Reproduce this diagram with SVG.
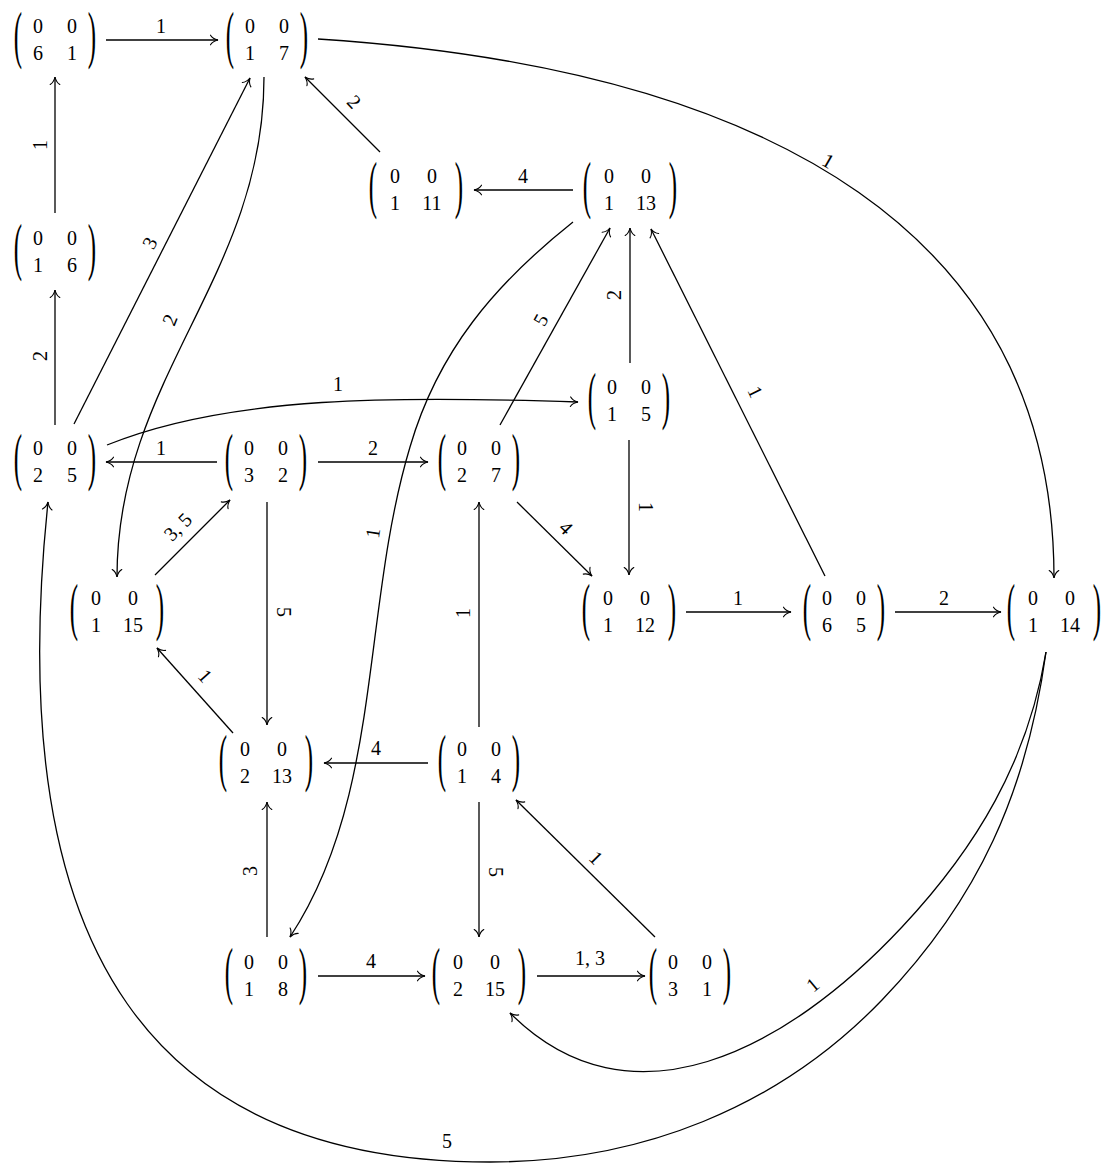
<svg xmlns="http://www.w3.org/2000/svg" width="1109" height="1163" viewBox="0 0 1109 1163">
<style>
.m{font-family:"Liberation Serif","Times New Roman",serif;font-size:20px;text-anchor:middle;fill:#000}
.p{font-family:"Liberation Serif","Times New Roman",serif;font-size:25px;text-anchor:middle;fill:#000}
.l{font-family:"Liberation Serif","Times New Roman",serif;font-size:20px;text-anchor:middle;fill:#000}
.e{fill:none;stroke:#000;stroke-width:1.3;marker-end:url(#ah)}
</style>
<defs>
<marker id="ah" viewBox="-9 -6 11 12" refX="0" refY="0" markerWidth="11" markerHeight="12" markerUnits="userSpaceOnUse" orient="auto" overflow="visible">
<path d="M-7.5,-4.8 C-5.8,-2 -2.6,-0.6 0,0 C-2.6,0.6 -5.8,2 -7.5,4.8" fill="none" stroke="#000" stroke-width="1.1" stroke-linecap="round"/>
</marker>
</defs>
<rect width="1109" height="1163" fill="#fff"/>

<g id="edges">
<path class="e" d="M106,40 H218"/>
<path class="e" d="M55,213 V77"/>
<path class="e" d="M55,425 V290"/>
<path class="e" d="M74,424 L250,78"/>
<path class="e" d="M264,77 C264,277 117,377 117,577"/>
<path class="e" d="M318,39 C778,69 1054,238 1054,578"/>
<path class="e" d="M380,152 L305,77"/>
<path class="e" d="M573,190 H474"/>
<path class="e" d="M573,222 C495,284 438,351 410,447 C361,610 383,796 290,937"/>
<path class="e" d="M630,363 V228"/>
<path class="e" d="M500,425 L610,228"/>
<path class="e" d="M825,576 L651,229"/>
<path class="e" d="M107,445 C230,395 400,396 578,402"/>
<path class="e" d="M217,462 H106"/>
<path class="e" d="M318,462 H428"/>
<path class="e" d="M155,575 L230,500"/>
<path class="e" d="M267,502 V725"/>
<path class="e" d="M517,502 L592,576"/>
<path class="e" d="M629,440 V575"/>
<path class="e" d="M686,612 H791"/>
<path class="e" d="M895,612 H1001"/>
<path class="e" d="M1046,652 C1028,761 977,847 902,927 C786,1051 630,1133 510,1013"/>
<path class="e" d="M1046,652 C1027,791 979,899 882,1000 C778,1108 640,1162 490,1162 C160,1162 0,960 48,502"/>
<path class="e" d="M233,733 L157,648"/>
<path class="e" d="M428,763 H324"/>
<path class="e" d="M479,727 V502"/>
<path class="e" d="M479,802 V937"/>
<path class="e" d="M267,937 V802"/>
<path class="e" d="M318,976 H425"/>
<path class="e" d="M537,976 H645"/>
<path class="e" d="M655,937 L516,800"/>

<text class="l" x="161" y="33">1</text>
<text class="l" transform="translate(40,145) rotate(-90)" y="6.5">1</text>
<text class="l" transform="translate(40,356) rotate(-90)" y="6.5">2</text>
<text class="l" transform="translate(150,243) rotate(-63)" y="6.5">3</text>
<text class="l" transform="translate(170,320) rotate(-68)" y="6.5">2</text>
<text class="l" transform="translate(828,161) rotate(30)" y="6.5">1</text>
<text class="l" transform="translate(354,102) rotate(47)" y="6.5">2</text>
<text class="l" x="523" y="183">4</text>
<text class="l" transform="translate(373,533) rotate(-81)" y="6.5">1</text>
<text class="l" transform="translate(614,295) rotate(-90)" y="6.5">2</text>
<text class="l" transform="translate(541,320) rotate(-61)" y="6.5">5</text>
<text class="l" transform="translate(755,392) rotate(64)" y="6.5">1</text>
<text class="l" x="338" y="391">1</text>
<text class="l" x="161" y="455">1</text>
<text class="l" x="373" y="455">2</text>
<text class="l" transform="translate(178,527) rotate(-45)" y="6.5">3, 5</text>
<text class="l" transform="translate(283,612) rotate(90)" y="6.5">5</text>
<text class="l" transform="translate(566,528) rotate(45)" y="6.5">4</text>
<text class="l" transform="translate(645,507) rotate(90)" y="6.5">1</text>
<text class="l" x="738" y="605">1</text>
<text class="l" x="944" y="605">2</text>
<text class="l" transform="translate(813,985) rotate(-40)" y="6.5">1</text>
<text class="l" x="447" y="1148">5</text>
<text class="l" transform="translate(205,676) rotate(48)" y="6.5">1</text>
<text class="l" x="376" y="755">4</text>
<text class="l" transform="translate(463,613) rotate(-90)" y="6.5">1</text>
<text class="l" transform="translate(495,872) rotate(90)" y="6.5">5</text>
<text class="l" transform="translate(250,871) rotate(-90)" y="6.5">3</text>
<text class="l" x="371" y="968">4</text>
<text class="l" x="590" y="965">1, 3</text>
<text class="l" transform="translate(596,858) rotate(45)" y="6.5">1</text>
</g>

<g id="n-6-1" transform="translate(55,40)">
<text class="p" transform="translate(-37,16) scale(1,2.5)">(</text><text class="p" transform="translate(37,16) scale(1,2.5)">)</text>
<text class="m" x="-17" y="-7">0</text><text class="m" x="17" y="-7">0</text><text class="m" x="-17" y="20">6</text><text class="m" x="17" y="20">1</text>
</g>
<g id="n-1-7" transform="translate(267,40)">
<text class="p" transform="translate(-37,16) scale(1,2.5)">(</text><text class="p" transform="translate(37,16) scale(1,2.5)">)</text>
<text class="m" x="-17" y="-7">0</text><text class="m" x="17" y="-7">0</text><text class="m" x="-17" y="20">1</text><text class="m" x="17" y="20">7</text>
</g>
<g id="n-1-6" transform="translate(55,252)">
<text class="p" transform="translate(-37,16) scale(1,2.5)">(</text><text class="p" transform="translate(37,16) scale(1,2.5)">)</text>
<text class="m" x="-17" y="-7">0</text><text class="m" x="17" y="-7">0</text><text class="m" x="-17" y="20">1</text><text class="m" x="17" y="20">6</text>
</g>
<g id="n-2-5" transform="translate(55,462)">
<text class="p" transform="translate(-37,16) scale(1,2.5)">(</text><text class="p" transform="translate(37,16) scale(1,2.5)">)</text>
<text class="m" x="-17" y="-7">0</text><text class="m" x="17" y="-7">0</text><text class="m" x="-17" y="20">2</text><text class="m" x="17" y="20">5</text>
</g>
<g id="n-3-2" transform="translate(266,462)">
<text class="p" transform="translate(-37,16) scale(1,2.5)">(</text><text class="p" transform="translate(37,16) scale(1,2.5)">)</text>
<text class="m" x="-17" y="-7">0</text><text class="m" x="17" y="-7">0</text><text class="m" x="-17" y="20">3</text><text class="m" x="17" y="20">2</text>
</g>
<g id="n-2-7" transform="translate(479,462)">
<text class="p" transform="translate(-37,16) scale(1,2.5)">(</text><text class="p" transform="translate(37,16) scale(1,2.5)">)</text>
<text class="m" x="-17" y="-7">0</text><text class="m" x="17" y="-7">0</text><text class="m" x="-17" y="20">2</text><text class="m" x="17" y="20">7</text>
</g>
<g id="n-1-5" transform="translate(629,401)">
<text class="p" transform="translate(-37,16) scale(1,2.5)">(</text><text class="p" transform="translate(37,16) scale(1,2.5)">)</text>
<text class="m" x="-17" y="-7">0</text><text class="m" x="17" y="-7">0</text><text class="m" x="-17" y="20">1</text><text class="m" x="17" y="20">5</text>
</g>
<g id="n-1-11" transform="translate(416,190)">
<text class="p" transform="translate(-43,16) scale(1,2.5)">(</text><text class="p" transform="translate(43,16) scale(1,2.5)">)</text>
<text class="m" x="-21" y="-7">0</text><text class="m" x="16" y="-7">0</text><text class="m" x="-21" y="20">1</text><text class="m" x="16" y="20">11</text>
</g>
<g id="n-1-13" transform="translate(630,190)">
<text class="p" transform="translate(-43,16) scale(1,2.5)">(</text><text class="p" transform="translate(43,16) scale(1,2.5)">)</text>
<text class="m" x="-21" y="-7">0</text><text class="m" x="16" y="-7">0</text><text class="m" x="-21" y="20">1</text><text class="m" x="16" y="20">13</text>
</g>
<g id="n-1-15" transform="translate(117,612)">
<text class="p" transform="translate(-43,16) scale(1,2.5)">(</text><text class="p" transform="translate(43,16) scale(1,2.5)">)</text>
<text class="m" x="-21" y="-7">0</text><text class="m" x="16" y="-7">0</text><text class="m" x="-21" y="20">1</text><text class="m" x="16" y="20">15</text>
</g>
<g id="n-1-12" transform="translate(629,612)">
<text class="p" transform="translate(-43,16) scale(1,2.5)">(</text><text class="p" transform="translate(43,16) scale(1,2.5)">)</text>
<text class="m" x="-21" y="-7">0</text><text class="m" x="16" y="-7">0</text><text class="m" x="-21" y="20">1</text><text class="m" x="16" y="20">12</text>
</g>
<g id="n-6-5" transform="translate(844,612)">
<text class="p" transform="translate(-37,16) scale(1,2.5)">(</text><text class="p" transform="translate(37,16) scale(1,2.5)">)</text>
<text class="m" x="-17" y="-7">0</text><text class="m" x="17" y="-7">0</text><text class="m" x="-17" y="20">6</text><text class="m" x="17" y="20">5</text>
</g>
<g id="n-1-14" transform="translate(1054,612)">
<text class="p" transform="translate(-43,16) scale(1,2.5)">(</text><text class="p" transform="translate(43,16) scale(1,2.5)">)</text>
<text class="m" x="-21" y="-7">0</text><text class="m" x="16" y="-7">0</text><text class="m" x="-21" y="20">1</text><text class="m" x="16" y="20">14</text>
</g>
<g id="n-2-13" transform="translate(266,763)">
<text class="p" transform="translate(-43,16) scale(1,2.5)">(</text><text class="p" transform="translate(43,16) scale(1,2.5)">)</text>
<text class="m" x="-21" y="-7">0</text><text class="m" x="16" y="-7">0</text><text class="m" x="-21" y="20">2</text><text class="m" x="16" y="20">13</text>
</g>
<g id="n-1-4" transform="translate(479,763)">
<text class="p" transform="translate(-37,16) scale(1,2.5)">(</text><text class="p" transform="translate(37,16) scale(1,2.5)">)</text>
<text class="m" x="-17" y="-7">0</text><text class="m" x="17" y="-7">0</text><text class="m" x="-17" y="20">1</text><text class="m" x="17" y="20">4</text>
</g>
<g id="n-1-8" transform="translate(266,976)">
<text class="p" transform="translate(-37,16) scale(1,2.5)">(</text><text class="p" transform="translate(37,16) scale(1,2.5)">)</text>
<text class="m" x="-17" y="-7">0</text><text class="m" x="17" y="-7">0</text><text class="m" x="-17" y="20">1</text><text class="m" x="17" y="20">8</text>
</g>
<g id="n-2-15" transform="translate(479,976)">
<text class="p" transform="translate(-43,16) scale(1,2.5)">(</text><text class="p" transform="translate(43,16) scale(1,2.5)">)</text>
<text class="m" x="-21" y="-7">0</text><text class="m" x="16" y="-7">0</text><text class="m" x="-21" y="20">2</text><text class="m" x="16" y="20">15</text>
</g>
<g id="n-3-1" transform="translate(690,976)">
<text class="p" transform="translate(-37,16) scale(1,2.5)">(</text><text class="p" transform="translate(37,16) scale(1,2.5)">)</text>
<text class="m" x="-17" y="-7">0</text><text class="m" x="17" y="-7">0</text><text class="m" x="-17" y="20">3</text><text class="m" x="17" y="20">1</text>
</g>
</svg>
